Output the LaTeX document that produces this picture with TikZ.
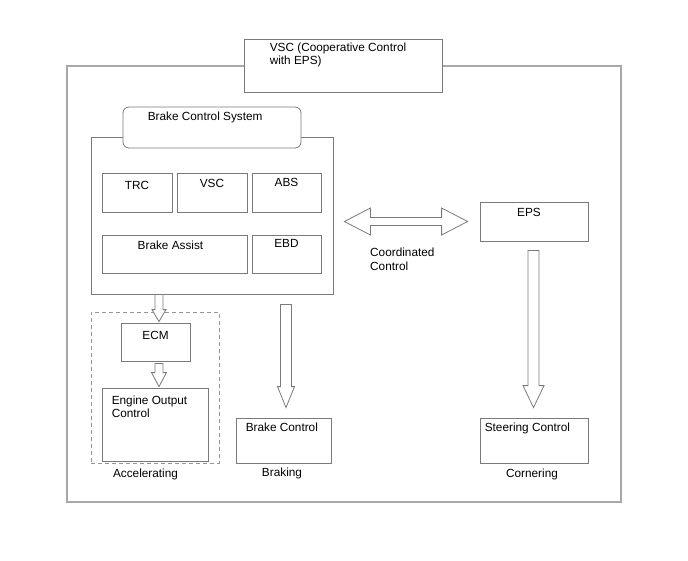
\documentclass[tikz,border=0pt]{standalone}
\usepackage{fontspec}
\setmainfont{Liberation Sans}
\usetikzlibrary{positioning,calc}

\definecolor{linegray}{HTML}{7A7A7A}
\definecolor{framegray}{HTML}{A8A8A8}

% hollow block arrow pointing down: from, to, shaft half, head half, head length
\newcommand{\blockdown}[5]{%
  \draw[fatarrow] let \p1=(#1), \p2=(#2) in
    (\x1-#3,\y1) -- (\x1-#3,\y2+#5) -- (\x1-#4,\y2+#5) -- (\x1,\y2)
    -- (\x1+#4,\y2+#5) -- (\x1+#3,\y2+#5) -- (\x1+#3,\y1) -- cycle;}

\begin{document}
\begin{tikzpicture}[%
	    x=1pt,
	    y=-1pt,
	    font=\fontsize{11.8}{13.4}\selectfont,
	    box/.style={draw=linegray, line width=0.8pt, inner sep=0pt},
	    frame/.style={draw=framegray, line width=1.4pt, inner sep=0pt},
	    group/.style={draw=linegray!80, line width=0.8pt, dashed, dash pattern=on 4pt off 3pt, inner sep=0pt},
	    txt/.style={inner sep=0pt, align=left},
	    fatarrow/.style={draw=linegray, line width=0.8pt, fill=white, line join=miter},
	    node distance=6pt
	  ]

  \useasboundingbox (0,0) rectangle (688,560);

  % outer frame and title
  \node[frame, minimum width=554, minimum height=436] (outer) at (344,284) {};
  \node[box, fill=white, minimum width=198, minimum height=53] (vsctop) at (343,65.5) {};
  \node[txt, below right=4pt and 26pt of vsctop.north west] (vsctxt)
    {VSC (Cooperative Control\\with EPS)};

  % brake control system
  \node[box, minimum width=242, minimum height=157] (bcsframe) at (212,215.5) {};
  \node[box, fill=white, rounded corners=6pt, minimum width=178, minimum height=41] (bcs) at (212,127.5) {};
  \node[txt, below right=5pt and 25pt of bcs.north west] (bcstxt) {Brake Control System};

  \node[box, minimum width=70, minimum height=39] (trc) at (137,192.5) {};
  \node[box, minimum width=70, minimum height=39] (vsc) at (212,192.5) {};
  \node[box, minimum width=69, minimum height=39] (abs) at (286.5,192.5) {};
  \node[box, minimum width=145, minimum height=38] (ba) at (174.5,254) {};
  \node[box, minimum width=69, minimum height=38] (ebd) at (286.5,254) {};

  \node[txt, below=8pt of trc.north] (trctxt) {TRC};
  \node[txt, below=6pt of vsc.north] (vsctxt2) {VSC};
  \node[txt, below=5pt of abs.north] (abstxt) {ABS};
  \node[txt, below=6pt of ba.north, xshift=-4pt] (batxt) {Brake Assist};
  \node[txt, below=5pt of ebd.north] (ebdtxt) {EBD};

  % accelerating
  \node[group, minimum width=128, minimum height=151] (accel) at (155,387.5) {};
  \node[box, minimum width=69, minimum height=38] (ecm) at (155.5,342) {};
  \node[txt, below=8pt of ecm.north] (ecmtxt) {ECM};
  \node[box, minimum width=106, minimum height=73] (eoc) at (155,424.5) {};
  \node[txt, below right=8pt and 10pt of eoc.north west] (eoctxt)
    {Engine Output\\Control};
  \node[txt, below=5pt of accel.south, xshift=-9.5pt] (acceltxt) {Accelerating};

  % braking
  \node[box, minimum width=95, minimum height=45] (bc) at (283.5,440.5) {};
  \node[txt, below right=5pt and 10pt of bc.north west] (bctxt) {Brake Control};
  \node[txt, below=4pt of bc.south, xshift=-1.5pt] (braking) {Braking};

  % steering
  \node[box, minimum width=108, minimum height=39] (eps) at (534,221.5) {};
  \node[txt, below=6pt of eps.north, xshift=-5pt] (epstxt) {EPS};
  \node[box, minimum width=108, minimum height=45] (sc) at (534,440.5) {};
  \node[txt, below right=5pt and 5pt of sc.north west] (sctxt) {Steering Control};
  \node[txt, below=5pt of sc.south, xshift=-2pt] (cornering) {Cornering};

  \node[txt, anchor=north west] (coord) at (370,248) {Coordinated\\Control};

  % block arrows
  \blockdown{$(ecm.north |- bcsframe.south)+(3.5,0)$}{$(ecm.north)+(3.5,-1)$}{4pt}{7pt}{12pt}
  \blockdown{$(ecm.south)+(3.5,2)$}{$(eoc.north)+(3.5,-1)$}{4pt}{7.5pt}{14pt}
  \blockdown{$(bcsframe.south -| bc.north)+(2.5,10)$}{$(bc.north)+(2.5,-10)$}{5.5pt}{8.5pt}{21pt}
  \blockdown{$(eps.south)+(-0.5,9)$}{$(sc.north)+(-0.5,-10)$}{5.5pt}{10.5pt}{22pt}

  \draw[fatarrow] let \p1=($(bcsframe.east |- eps.west)+(11,0)$), \p2=($(eps.west)+(-12,0)$) in
    (\p1) -- (\x1+26pt,\y1+13.5pt) -- (\x1+26pt,\y1+4pt) -- (\x2-26pt,\y1+4pt)
    -- (\x2-26pt,\y1+13.5pt) -- (\p2) -- (\x2-26pt,\y1-13.5pt) -- (\x2-26pt,\y1-4pt)
    -- (\x1+26pt,\y1-4pt) -- (\x1+26pt,\y1-13.5pt) -- cycle;

\end{tikzpicture}
\end{document}
